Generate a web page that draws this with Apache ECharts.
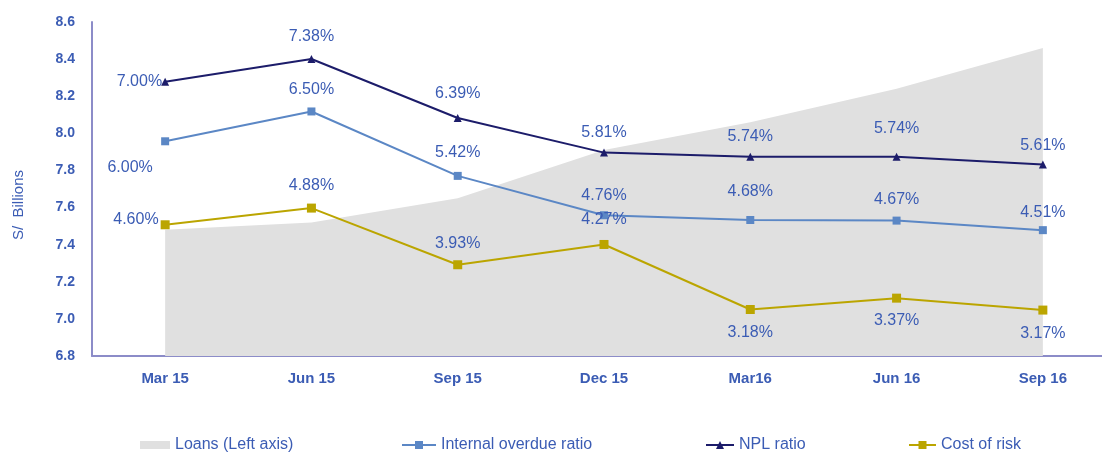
<!DOCTYPE html>
<html>
<head>
<meta charset="utf-8">
<script src="https://cdn.jsdelivr.net/npm/echarts@6/dist/echarts.min.js"></script>
<style>
  html, body { margin: 0; padding: 0; background: #fff; }
  #chart { width: 1102px; height: 454px; }
</style>
</head>
<body>
<div id="chart"></div>
<script>
// data
var categories = ['Mar 15', 'Jun 15', 'Sep 15', 'Dec 15', 'Mar16', 'Jun 16', 'Sep 16'];
var loans = [7.48, 7.52, 7.65, 7.91, 8.06, 8.24, 8.46];
var overdueRatio = [6.00, 6.50, 5.42, 4.76, 4.68, 4.67, 4.51];
var nplRatio = [7.00, 7.38, 6.39, 5.81, 5.74, 5.74, 5.61];
var costOfRisk = [4.60, 4.88, 3.93, 4.27, 3.18, 3.37, 3.17];

var labelColor = '#3b5cb4';
var font = 'Liberation Sans, Arial, sans-serif';

// label placement for each point
function withLabels(values, places) {
    return values.map(function (v, i) {
        var p = places[i];
        return {
            value: v,
            label: { position: p[0], offset: p[1] }
        };
    });
}

var nplPlaces = [['left', [6, 0]], ['top', [0, -5]], ['top', [0, -7]], ['top', [0, -3]], ['top', [0, -3]], ['top', [0, -11]], ['top', [0, -2]]];
var overduePlaces = [['bottom', [-35, 9]], ['top', [0, -5]], ['top', [0, -6]], ['top', [0, -3]], ['top', [0, -11]], ['top', [0, -4]], ['top', [0, -1]]];
var costPlaces = [['left', [3, -5]], ['top', [0, -5]], ['top', [0, -4]], ['top', [0, -7]], ['bottom', [0, 6]], ['bottom', [0, 5]], ['bottom', [0, 6]]];

var myChart = echarts.init(document.getElementById('chart'));

var pctLabel = {
    show: true,
    color: labelColor,
    fontSize: 16,
    fontFamily: font,
    formatter: function (p) { return p.value.toFixed(2) + '%'; }
};

function legendItem(name, left, w, icon) {
    var l = {
        data: [name],
        left: left,
        top: 432,
        itemWidth: w,
        itemHeight: icon ? 8 : 10,
        itemGap: 0,
        textStyle: { color: labelColor, fontSize: 16, fontFamily: font }
    };
    if (icon) l.icon = icon;
    return l;
}

myChart.setOption({
    animation: false,
    grid: { left: 92, width: 1024, top: 22, bottom: 98, containLabel: false, outerBoundsMode: 'none' },
    legend: [
        legendItem('Loans (Left axis)', 135, 30, 'rect'),
        legendItem('Internal overdue ratio', 396, 34),
        legendItem('NPL ratio', 700, 28),
        legendItem('Cost of risk', 903, 27)
    ],
    graphic: [{
        type: 'text',
        left: 11,
        top: 170,
        rotation: Math.PI / 2,
        style: {
            text: 'S/  Billions',
            fill: labelColor,
            font: '15px ' + font
        }
    }],
    xAxis: {
        type: 'category',
        data: categories,
        boundaryGap: true,
        axisLine: { lineStyle: { color: '#8c8cc8', width: 2 } },
        axisTick: { show: false },
        axisLabel: { color: labelColor, fontSize: 15, fontWeight: 'bold', fontFamily: font, margin: 15 }
    },
    yAxis: [
        {
            type: 'value',
            min: 6.8,
            max: 8.6,
            interval: 0.2,
            splitLine: { show: false },
            axisTick: { show: false },
            axisLine: { show: true, lineStyle: { color: '#8c8cc8', width: 2 } },
            axisLabel: {
                color: labelColor, fontSize: 14, fontWeight: 'bold', fontFamily: font, margin: 17,
                formatter: function (v) { return v.toFixed(1); }
            }
        },
        {
            type: 'value',
            min: 2.4,
            max: 8.0,
            show: false,
            splitLine: { show: false }
        }
    ],
    series: [
        {
            name: 'Loans (Left axis)',
            type: 'line',
            data: loans,
            symbol: 'none',
            lineStyle: { width: 0 },
            itemStyle: { color: '#e0e0e0' },
            areaStyle: { color: '#e0e0e0', opacity: 1 },
            z: 1
        },
        {
            name: 'Internal overdue ratio',
            type: 'line',
            yAxisIndex: 1,
            data: withLabels(overdueRatio, overduePlaces),
            symbol: 'rect',
            symbolSize: 8,
            lineStyle: { color: '#5b87c5', width: 2 },
            itemStyle: { color: '#5b87c5' },
            label: pctLabel,
            z: 3
        },
        {
            name: 'NPL ratio',
            type: 'line',
            yAxisIndex: 1,
            data: withLabels(nplRatio, nplPlaces),
            symbol: 'triangle',
            symbolSize: 8,
            lineStyle: { color: '#1c1c6a', width: 2 },
            itemStyle: { color: '#1c1c6a' },
            label: pctLabel,
            z: 4
        },
        {
            name: 'Cost of risk',
            type: 'line',
            yAxisIndex: 1,
            data: withLabels(costOfRisk, costPlaces),
            symbol: 'rect',
            symbolSize: 9,
            lineStyle: { color: '#bba500', width: 2 },
            itemStyle: { color: '#bba500' },
            label: pctLabel,
            z: 3
        }
    ]
});
</script>
</body>
</html>
